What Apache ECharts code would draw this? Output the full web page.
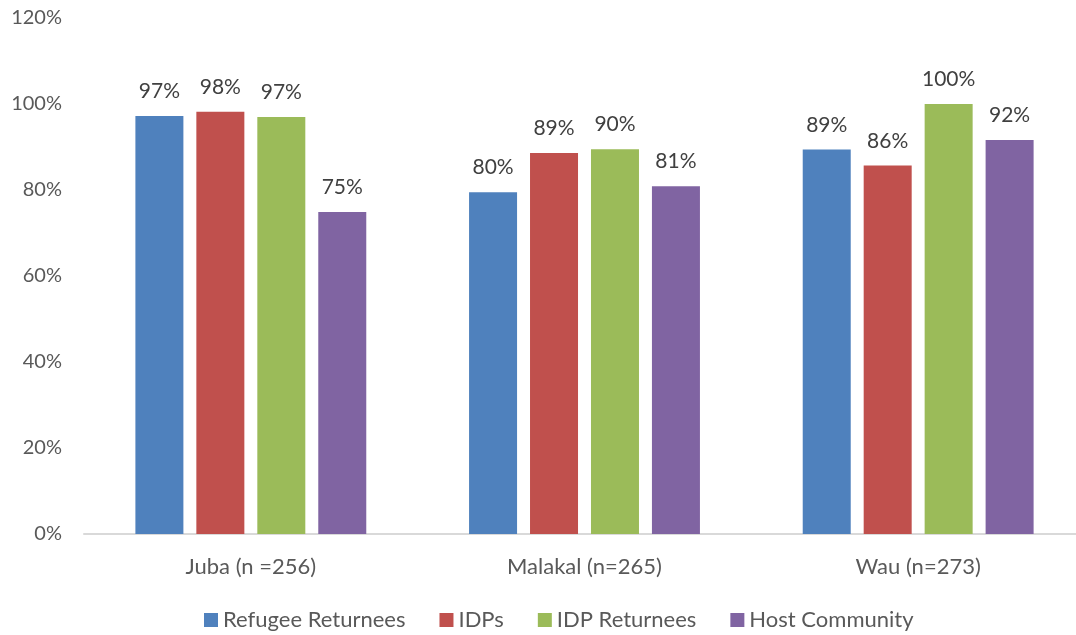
<!DOCTYPE html>
<html><head><meta charset="utf-8">
<script src="https://cdn.jsdelivr.net/npm/echarts@6/dist/echarts.min.js"></script>
<style>html,body{margin:0;padding:0;background:#fff}#c{width:1076px;height:635px}</style>
</head><body><div id="c"></div>
<script>
const categories = ['Juba (n =256)', 'Malakal (n=265)', 'Wau (n=273)'];
const seriesNames = ['Refugee Returnees', 'IDPs', 'IDP Returnees', 'Host Community'];
const refugeeReturnees = [97.2, 79.5, 89.4];
const idps = [98.2, 88.6, 85.7];
const idpReturnees = [97.0, 89.5, 100];
const hostCommunity = [74.9, 80.9, 91.6];
const colors = ['#4F81BD', '#C0504D', '#9BBB59', '#8064A2'];
const yTicks = [0, 20, 40, 60, 80, 100, 120];
const values = [refugeeReturnees, idps, idpReturnees, hostCommunity];
const font = 'Lato, "Open Sans", sans-serif';
const chart = echarts.init(document.getElementById('c'));
chart.setOption({
  animation: false,
  grid: {left: 84, width: 1001, top: 18, bottom: 101, outerBoundsMode: 'none', containLabel: false},
  legend: {
    bottom: -1, left: 199, itemWidth: 14, itemHeight: 14, itemGap: 34,
    icon: 'rect',
    textStyle: {fontFamily: font, fontSize: 22, color: '#595959'},
    data: seriesNames
  },
  xAxis: {
    type: 'category', data: categories,
    axisLine: {lineStyle: {color: '#D9D9D9', width: 2}},
    axisTick: {show: false},
    axisLabel: {fontFamily: font, fontSize: 22, color: '#595959', margin: 22}
  },
  yAxis: {
    type: 'value', min: yTicks[0], max: yTicks[yTicks.length-1], interval: 20,
    axisLine: {show: false}, axisTick: {show: false}, splitLine: {show: false},
    axisLabel: {fontFamily: font, fontSize: 20, color: '#595959', margin: 22, formatter: v => v + '%'}
  },
  series: seriesNames.map((n, i) => ({
    name: n, type: 'bar', data: values[i], barWidth: 48, barGap: '27%',
    itemStyle: {color: colors[i]},
    label: {show: true, position: 'top', distance: 14, fontFamily: font, fontSize: 21, color: '#404040',
      formatter: p => Math.round(p.value) + '%'}
  }))
});
</script></body></html>
